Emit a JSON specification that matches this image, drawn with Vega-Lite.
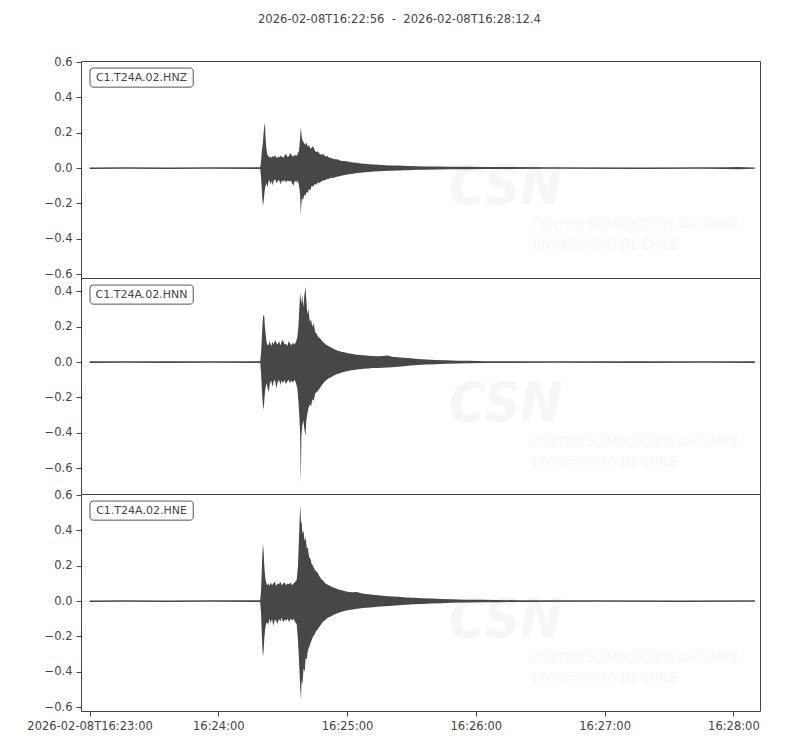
{
"$schema":"https://vega.github.io/schema/vega-lite/v6.json",
"background":"white",
"padding":{"left":26,"top":13,"right":10,"bottom":5},
"title":{"text":"2026-02-08T16:22:56\u00a0\u00a0-\u00a0\u00a02026-02-08T16:28:12.4","font":"DejaVu Sans","fontSize":11.6,"fontWeight":"normal","color":"#444444","anchor":"middle","offset":30,"dx":6},
"spacing":0,
"bounds":"flush",
"config":{"view":{"stroke":"#444444","strokeWidth":1},"axis":{"labelFont":"DejaVu Sans","labelFontSize":11.5,"labelColor":"#444444","tickColor":"#444444","tickWidth":1,"grid":false,"domain":false,"tickSize":5,"labelPadding":4,"title":null,"labelOverlap":false,"labelBound":false}},
"datasets":{
"hnz":[
{"t":4,"lo":-0.005,"hi":0.004},{"t":20,"lo":-0.004,"hi":0.005},{"t":40,"lo":-0.005,"hi":0.004},{"t":60,"lo":-0.004,"hi":0.005},{"t":83.5,"lo":-0.005,"hi":0.005},
{"t":83.9,"lo":-0.05,"hi":0.04},{"t":84.2,"lo":-0.11,"hi":0.09},{"t":84.5,"lo":-0.17,"hi":0.12},{"t":84.8,"lo":-0.215,"hi":0.15},{"t":85.1,"lo":-0.19,"hi":0.2},{"t":85.4,"lo":-0.15,"hi":0.235},{"t":85.7,"lo":-0.12,"hi":0.257},{"t":86.0,"lo":-0.1,"hi":0.17},{"t":86.4,"lo":-0.085,"hi":0.11},{"t":86.8,"lo":-0.11,"hi":0.075},{"t":87.3,"lo":-0.08,"hi":0.07},{"t":87.7,"lo":-0.065,"hi":0.06},{"t":88.2,"lo":-0.09,"hi":0.065},{"t":88.9,"lo":-0.075,"hi":0.058},{"t":89.4,"lo":-0.1,"hi":0.07},{"t":89.8,"lo":-0.07,"hi":0.062},{"t":90.5,"lo":-0.065,"hi":0.072},{"t":91.1,"lo":-0.085,"hi":0.055},{"t":91.8,"lo":-0.072,"hi":0.066},{"t":92.3,"lo":-0.068,"hi":0.06},{"t":93.0,"lo":-0.092,"hi":0.07},{"t":93.6,"lo":-0.07,"hi":0.064},{"t":94.4,"lo":-0.078,"hi":0.058},{"t":95.0,"lo":-0.066,"hi":0.074},{"t":95.5,"lo":-0.082,"hi":0.08},{"t":96.3,"lo":-0.07,"hi":0.062},{"t":97.0,"lo":-0.076,"hi":0.07},{"t":97.6,"lo":-0.07,"hi":0.085},{"t":98.3,"lo":-0.085,"hi":0.07},{"t":99.0,"lo":-0.1,"hi":0.066},{"t":99.6,"lo":-0.072,"hi":0.075},{"t":100.3,"lo":-0.08,"hi":0.068},{"t":101.0,"lo":-0.07,"hi":0.08},{"t":101.6,"lo":-0.1,"hi":0.1},{"t":102.1,"lo":-0.15,"hi":0.17},{"t":102.4,"lo":-0.268,"hi":0.228},{"t":102.7,"lo":-0.2,"hi":0.2},{"t":103.0,"lo":-0.17,"hi":0.16},{"t":103.5,"lo":-0.18,"hi":0.15},{"t":104.0,"lo":-0.15,"hi":0.14},{"t":104.5,"lo":-0.16,"hi":0.13},{"t":105.1,"lo":-0.135,"hi":0.145},{"t":105.7,"lo":-0.14,"hi":0.12},{"t":106.2,"lo":-0.12,"hi":0.13},{"t":106.9,"lo":-0.125,"hi":0.11},{"t":107.5,"lo":-0.1,"hi":0.115},{"t":108.2,"lo":-0.105,"hi":0.125},{"t":108.9,"lo":-0.09,"hi":0.1},{"t":109.6,"lo":-0.095,"hi":0.09},{"t":110.4,"lo":-0.08,"hi":0.095},{"t":111.2,"lo":-0.085,"hi":0.08},{"t":112.0,"lo":-0.075,"hi":0.075},{"t":112.9,"lo":-0.07,"hi":0.08},{"t":113.8,"lo":-0.068,"hi":0.065},{"t":114.7,"lo":-0.062,"hi":0.068},{"t":115.6,"lo":-0.06,"hi":0.06},{"t":116.6,"lo":-0.055,"hi":0.057},{"t":117.6,"lo":-0.056,"hi":0.052},{"t":118.7,"lo":-0.05,"hi":0.05},{"t":119.8,"lo":-0.047,"hi":0.048},{"t":121.0,"lo":-0.045,"hi":0.042},{"t":122.3,"lo":-0.04,"hi":0.04},{"t":123.7,"lo":-0.038,"hi":0.038},{"t":125.2,"lo":-0.034,"hi":0.035},{"t":126.8,"lo":-0.032,"hi":0.031},{"t":128.5,"lo":-0.028,"hi":0.03},{"t":130.3,"lo":-0.027,"hi":0.026},{"t":132.2,"lo":-0.024,"hi":0.025},{"t":134.2,"lo":-0.022,"hi":0.022},{"t":136.5,"lo":-0.02,"hi":0.021},{"t":139.0,"lo":-0.018,"hi":0.019},{"t":141.5,"lo":-0.017,"hi":0.016},{"t":144.5,"lo":-0.015,"hi":0.015},{"t":148.0,"lo":-0.013,"hi":0.014},{"t":152.0,"lo":-0.012,"hi":0.012},{"t":156.5,"lo":-0.01,"hi":0.011},{"t":161.0,"lo":-0.009,"hi":0.009},{"t":166.0,"lo":-0.008,"hi":0.009},{"t":172.0,"lo":-0.007,"hi":0.007},{"t":179.0,"lo":-0.006,"hi":0.007},{"t":187.0,"lo":-0.005,"hi":0.006},{"t":220.0,"lo":-0.004,"hi":0.005},{"t":260.0,"lo":-0.005,"hi":0.004},{"t":290.0,"lo":-0.004,"hi":0.005},{"t":300.0,"lo":-0.005,"hi":0.005},{"t":306.0,"lo":-0.006,"hi":0.006},{"t":310.0,"lo":-0.005,"hi":0.005},{"t":314.0,"lo":-0.004,"hi":0.004}
],
"hnn":[
{"t":4,"lo":-0.005,"hi":0.004},{"t":20,"lo":-0.004,"hi":0.005},{"t":40,"lo":-0.005,"hi":0.004},{"t":60,"lo":-0.004,"hi":0.005},{"t":83.5,"lo":-0.005,"hi":0.005},
{"t":83.9,"lo":-0.06,"hi":0.05},{"t":84.2,"lo":-0.14,"hi":0.12},{"t":84.5,"lo":-0.2,"hi":0.2},{"t":84.8,"lo":-0.25,"hi":0.25},{"t":85.1,"lo":-0.268,"hi":0.27},{"t":85.4,"lo":-0.22,"hi":0.26},{"t":85.7,"lo":-0.17,"hi":0.2},{"t":86.1,"lo":-0.14,"hi":0.15},{"t":86.5,"lo":-0.12,"hi":0.11},{"t":87.0,"lo":-0.15,"hi":0.095},{"t":87.5,"lo":-0.17,"hi":0.1},{"t":88.0,"lo":-0.12,"hi":0.12},{"t":88.6,"lo":-0.105,"hi":0.09},{"t":89.2,"lo":-0.14,"hi":0.115},{"t":89.8,"lo":-0.11,"hi":0.1},{"t":90.4,"lo":-0.1,"hi":0.125},{"t":91.0,"lo":-0.15,"hi":0.11},{"t":91.6,"lo":-0.115,"hi":0.1},{"t":92.3,"lo":-0.1,"hi":0.12},{"t":92.9,"lo":-0.13,"hi":0.095},{"t":93.5,"lo":-0.105,"hi":0.115},{"t":94.1,"lo":-0.12,"hi":0.125},{"t":94.8,"lo":-0.1,"hi":0.1},{"t":95.5,"lo":-0.125,"hi":0.105},{"t":96.1,"lo":-0.11,"hi":0.09},{"t":96.8,"lo":-0.1,"hi":0.12},{"t":97.4,"lo":-0.12,"hi":0.105},{"t":98.1,"lo":-0.105,"hi":0.095},{"t":98.8,"lo":-0.115,"hi":0.11},{"t":99.5,"lo":-0.1,"hi":0.1},{"t":100.2,"lo":-0.12,"hi":0.115},{"t":100.8,"lo":-0.15,"hi":0.14},{"t":101.3,"lo":-0.22,"hi":0.2},{"t":101.8,"lo":-0.32,"hi":0.32},{"t":102.1,"lo":-0.4,"hi":0.393},{"t":102.4,"lo":-0.693,"hi":0.36},{"t":102.7,"lo":-0.42,"hi":0.33},{"t":103.1,"lo":-0.36,"hi":0.38},{"t":103.6,"lo":-0.33,"hi":0.31},{"t":104.1,"lo":-0.38,"hi":0.38},{"t":104.6,"lo":-0.42,"hi":0.425},{"t":105.0,"lo":-0.33,"hi":0.35},{"t":105.5,"lo":-0.29,"hi":0.27},{"t":106.0,"lo":-0.26,"hi":0.3},{"t":106.6,"lo":-0.24,"hi":0.23},{"t":107.2,"lo":-0.25,"hi":0.24},{"t":107.8,"lo":-0.21,"hi":0.2},{"t":108.4,"lo":-0.22,"hi":0.22},{"t":109.1,"lo":-0.18,"hi":0.17},{"t":109.8,"lo":-0.17,"hi":0.16},{"t":110.6,"lo":-0.16,"hi":0.14},{"t":111.4,"lo":-0.145,"hi":0.135},{"t":112.3,"lo":-0.13,"hi":0.12},{"t":113.2,"lo":-0.115,"hi":0.11},{"t":114.1,"lo":-0.105,"hi":0.1},{"t":115.1,"lo":-0.095,"hi":0.092},{"t":116.2,"lo":-0.088,"hi":0.085},{"t":117.3,"lo":-0.08,"hi":0.078},{"t":118.5,"lo":-0.072,"hi":0.07},{"t":119.8,"lo":-0.066,"hi":0.064},{"t":121.2,"lo":-0.06,"hi":0.058},{"t":122.7,"lo":-0.055,"hi":0.056},{"t":124.3,"lo":-0.05,"hi":0.05},{"t":126.0,"lo":-0.046,"hi":0.047},{"t":127.8,"lo":-0.044,"hi":0.043},{"t":129.7,"lo":-0.041,"hi":0.04},{"t":131.7,"lo":-0.038,"hi":0.038},{"t":133.8,"lo":-0.036,"hi":0.036},{"t":136.0,"lo":-0.034,"hi":0.035},{"t":138.3,"lo":-0.033,"hi":0.033},{"t":140.6,"lo":-0.032,"hi":0.034},{"t":142.8,"lo":-0.031,"hi":0.037},{"t":145.0,"lo":-0.029,"hi":0.03},{"t":147.6,"lo":-0.026,"hi":0.027},{"t":150.5,"lo":-0.023,"hi":0.024},{"t":153.5,"lo":-0.02,"hi":0.021},{"t":157.0,"lo":-0.017,"hi":0.018},{"t":161.0,"lo":-0.014,"hi":0.015},{"t":165.0,"lo":-0.012,"hi":0.012},{"t":170.0,"lo":-0.01,"hi":0.01},{"t":175.5,"lo":-0.008,"hi":0.008},{"t":181.0,"lo":-0.006,"hi":0.007},{"t":188.0,"lo":-0.005,"hi":0.005},{"t":220.0,"lo":-0.004,"hi":0.005},{"t":260.0,"lo":-0.005,"hi":0.004},{"t":290.0,"lo":-0.004,"hi":0.005},{"t":314.0,"lo":-0.005,"hi":0.004}
],
"hne":[
{"t":4,"lo":-0.005,"hi":0.004},{"t":20,"lo":-0.004,"hi":0.005},{"t":40,"lo":-0.005,"hi":0.004},{"t":60,"lo":-0.004,"hi":0.005},{"t":83.5,"lo":-0.005,"hi":0.005},
{"t":83.9,"lo":-0.07,"hi":0.06},{"t":84.2,"lo":-0.17,"hi":0.16},{"t":84.5,"lo":-0.26,"hi":0.26},{"t":84.8,"lo":-0.317,"hi":0.325},{"t":85.1,"lo":-0.28,"hi":0.28},{"t":85.4,"lo":-0.21,"hi":0.2},{"t":85.8,"lo":-0.16,"hi":0.14},{"t":86.2,"lo":-0.13,"hi":0.11},{"t":86.7,"lo":-0.12,"hi":0.09},{"t":87.2,"lo":-0.135,"hi":0.1},{"t":87.8,"lo":-0.1,"hi":0.085},{"t":88.4,"lo":-0.125,"hi":0.105},{"t":89.0,"lo":-0.1,"hi":0.09},{"t":89.6,"lo":-0.14,"hi":0.1},{"t":90.3,"lo":-0.105,"hi":0.11},{"t":90.9,"lo":-0.11,"hi":0.085},{"t":91.6,"lo":-0.13,"hi":0.1},{"t":92.2,"lo":-0.1,"hi":0.095},{"t":92.9,"lo":-0.115,"hi":0.11},{"t":93.5,"lo":-0.095,"hi":0.09},{"t":94.2,"lo":-0.12,"hi":0.1},{"t":94.9,"lo":-0.105,"hi":0.105},{"t":95.6,"lo":-0.11,"hi":0.09},{"t":96.3,"lo":-0.1,"hi":0.1},{"t":97.0,"lo":-0.12,"hi":0.095},{"t":97.7,"lo":-0.1,"hi":0.105},{"t":98.4,"lo":-0.11,"hi":0.09},{"t":99.1,"lo":-0.1,"hi":0.1},{"t":99.8,"lo":-0.12,"hi":0.11},{"t":100.5,"lo":-0.13,"hi":0.12},{"t":101.1,"lo":-0.22,"hi":0.2},{"t":101.6,"lo":-0.34,"hi":0.36},{"t":101.9,"lo":-0.42,"hi":0.47},{"t":102.2,"lo":-0.5,"hi":0.544},{"t":102.5,"lo":-0.557,"hi":0.44},{"t":102.8,"lo":-0.45,"hi":0.45},{"t":103.2,"lo":-0.47,"hi":0.38},{"t":103.7,"lo":-0.38,"hi":0.4},{"t":104.2,"lo":-0.4,"hi":0.34},{"t":104.7,"lo":-0.32,"hi":0.36},{"t":105.2,"lo":-0.33,"hi":0.3},{"t":105.7,"lo":-0.28,"hi":0.3},{"t":106.3,"lo":-0.26,"hi":0.25},{"t":106.9,"lo":-0.24,"hi":0.24},{"t":107.5,"lo":-0.22,"hi":0.21},{"t":108.1,"lo":-0.2,"hi":0.2},{"t":108.8,"lo":-0.19,"hi":0.18},{"t":109.5,"lo":-0.17,"hi":0.17},{"t":110.3,"lo":-0.16,"hi":0.16},{"t":111.1,"lo":-0.145,"hi":0.14},{"t":112.0,"lo":-0.13,"hi":0.125},{"t":112.9,"lo":-0.115,"hi":0.115},{"t":113.9,"lo":-0.105,"hi":0.1},{"t":115.0,"lo":-0.095,"hi":0.092},{"t":116.1,"lo":-0.088,"hi":0.085},{"t":117.3,"lo":-0.08,"hi":0.078},{"t":118.6,"lo":-0.073,"hi":0.072},{"t":120.0,"lo":-0.066,"hi":0.066},{"t":121.5,"lo":-0.06,"hi":0.061},{"t":123.1,"lo":-0.055,"hi":0.056},{"t":124.8,"lo":-0.05,"hi":0.052},{"t":126.6,"lo":-0.047,"hi":0.05},{"t":128.5,"lo":-0.044,"hi":0.052},{"t":130.5,"lo":-0.041,"hi":0.044},{"t":132.6,"lo":-0.038,"hi":0.04},{"t":134.8,"lo":-0.036,"hi":0.037},{"t":137.1,"lo":-0.034,"hi":0.034},{"t":139.5,"lo":-0.031,"hi":0.032},{"t":142.0,"lo":-0.029,"hi":0.029},{"t":145.0,"lo":-0.026,"hi":0.026},{"t":148.0,"lo":-0.023,"hi":0.024},{"t":151.5,"lo":-0.021,"hi":0.021},{"t":155.0,"lo":-0.018,"hi":0.019},{"t":159.0,"lo":-0.016,"hi":0.016},{"t":163.5,"lo":-0.014,"hi":0.014},{"t":168.0,"lo":-0.012,"hi":0.012},{"t":173.0,"lo":-0.01,"hi":0.01},{"t":179.0,"lo":-0.008,"hi":0.008},{"t":186.0,"lo":-0.007,"hi":0.007},{"t":194.0,"lo":-0.006,"hi":0.006},{"t":204.0,"lo":-0.005,"hi":0.005},{"t":240.0,"lo":-0.004,"hi":0.005},{"t":280.0,"lo":-0.005,"hi":0.004},{"t":314.0,"lo":-0.004,"hi":0.005}
]
},
"vconcat":[
{"width":679,"height":217,
 "layer":[
  {"data":{"values":[{"w":"CSN"}]},"mark":{"type":"text","font":"DejaVu Sans Condensed, Liberation Sans, sans-serif","fontStyle":"italic","fontWeight":"bold","fontSize":56,"color":"#f6f6f6","align":"center","baseline":"middle"},"encoding":{"x":{"datum":197.9,"type":"quantitative"},"y":{"datum":-0.107,"type":"quantitative"},"text":{"field":"w"}}},
  {"data":{"values":[{"w":"x"}]},"mark":{"type":"text","font":"DejaVu Sans Condensed, Liberation Sans, sans-serif","fontStyle":"italic","fontSize":13.5,"color":"#f6f6f6","align":"left","baseline":"middle","lineHeight":20},"encoding":{"x":{"datum":210.5,"type":"quantitative"},"y":{"datum":-0.323,"type":"quantitative"},"text":{"value":["CENTRO SISMOLÓGICO NACIONAL","UNIVERSIDAD DE CHILE"]}}},
  {"data":{"name":"hnz"},"mark":{"type":"area","color":"#474747","clip":true,"interpolate":"linear"},
   "encoding":{"x":{"field":"t","type":"quantitative","scale":{"domain":[0,316.4],"nice":false,"zero":false},"axis":null},
    "y":{"field":"hi","type":"quantitative","scale":{"domain":[-0.622,0.606],"nice":false,"zero":false},"axis":{"values":[-0.6,-0.4,-0.2,0,0.2,0.4,0.6],"tickCount":12,"format":".1f","labelOverlap":false}},
    "y2":{"field":"lo"}}},
  {"data":{"values":[{"label":"C1.T24A.02.HNZ"}]},"mark":{"type":"rect","fill":"white","stroke":"#555555","strokeWidth":1,"cornerRadius":3},"encoding":{"x":{"datum":4.2,"type":"quantitative"},"x2":{"datum":52.3},"y":{"datum":0.566,"type":"quantitative"},"y2":{"datum":0.458}}},
  {"data":{"values":[{"label":"C1.T24A.02.HNZ"}]},"mark":{"type":"text","font":"DejaVu Sans","fontSize":11,"color":"#444444","align":"center","baseline":"middle"},"encoding":{"x":{"datum":28.2,"type":"quantitative"},"y":{"datum":0.512,"type":"quantitative"},"text":{"field":"label"}}}
 ]},
{"width":679,"height":216,
 "layer":[
  {"data":{"values":[{"w":"CSN"}]},"mark":{"type":"text","font":"DejaVu Sans Condensed, Liberation Sans, sans-serif","fontStyle":"italic","fontWeight":"bold","fontSize":56,"color":"#f6f6f6","align":"center","baseline":"middle"},"encoding":{"x":{"datum":197.9,"type":"quantitative"},"y":{"datum":-0.238,"type":"quantitative"},"text":{"field":"w"}}},
  {"data":{"values":[{"w":"x"}]},"mark":{"type":"text","font":"DejaVu Sans Condensed, Liberation Sans, sans-serif","fontStyle":"italic","fontSize":13.5,"color":"#f6f6f6","align":"left","baseline":"middle","lineHeight":20},"encoding":{"x":{"datum":210.5,"type":"quantitative"},"y":{"datum":-0.453,"type":"quantitative"},"text":{"value":["CENTRO SISMOLÓGICO NACIONAL","UNIVERSIDAD DE CHILE"]}}},
  {"data":{"name":"hnn"},"mark":{"type":"area","color":"#474747","clip":true,"interpolate":"linear"},
   "encoding":{"x":{"field":"t","type":"quantitative","scale":{"domain":[0,316.4],"nice":false,"zero":false},"axis":null},
    "y":{"field":"hi","type":"quantitative","scale":{"domain":[-0.747,0.476],"nice":false,"zero":false},"axis":{"values":[-0.6,-0.4,-0.2,0,0.2,0.4],"tickCount":12,"format":".1f","labelOverlap":false}},
    "y2":{"field":"lo"}}},
  {"data":{"values":[{"label":"C1.T24A.02.HNN"}]},"mark":{"type":"rect","fill":"white","stroke":"#555555","strokeWidth":1,"cornerRadius":3},"encoding":{"x":{"datum":4.2,"type":"quantitative"},"x2":{"datum":52.3},"y":{"datum":0.436,"type":"quantitative"},"y2":{"datum":0.328}}},
  {"data":{"values":[{"label":"C1.T24A.02.HNN"}]},"mark":{"type":"text","font":"DejaVu Sans","fontSize":11,"color":"#444444","align":"center","baseline":"middle"},"encoding":{"x":{"datum":28.2,"type":"quantitative"},"y":{"datum":0.382,"type":"quantitative"},"text":{"field":"label"}}}
 ]},
{"width":679,"height":217,
 "layer":[
  {"data":{"values":[{"w":"CSN"}]},"mark":{"type":"text","font":"DejaVu Sans Condensed, Liberation Sans, sans-serif","fontStyle":"italic","fontWeight":"bold","fontSize":56,"color":"#f6f6f6","align":"center","baseline":"middle"},"encoding":{"x":{"datum":197.9,"type":"quantitative"},"y":{"datum":-0.107,"type":"quantitative"},"text":{"field":"w"}}},
  {"data":{"values":[{"w":"x"}]},"mark":{"type":"text","font":"DejaVu Sans Condensed, Liberation Sans, sans-serif","fontStyle":"italic","fontSize":13.5,"color":"#f6f6f6","align":"left","baseline":"middle","lineHeight":20},"encoding":{"x":{"datum":210.5,"type":"quantitative"},"y":{"datum":-0.323,"type":"quantitative"},"text":{"value":["CENTRO SISMOLÓGICO NACIONAL","UNIVERSIDAD DE CHILE"]}}},
  {"data":{"name":"hne"},"mark":{"type":"area","color":"#474747","clip":true,"interpolate":"linear"},
   "encoding":{"x":{"field":"t","type":"quantitative","scale":{"domain":[0,316.4],"nice":false,"zero":false},"axis":{"values":[4,64,124,184,244,304],"tickCount":20,"labelFlush":false,"labelExpr":"datum.value < 10 ? '2026-02-08T16:23:00' : datum.value < 70 ? '16:24:00' : datum.value < 130 ? '16:25:00' : datum.value < 190 ? '16:26:00' : datum.value < 250 ? '16:27:00' : '16:28:00'"}},
    "y":{"field":"hi","type":"quantitative","scale":{"domain":[-0.622,0.606],"nice":false,"zero":false},"axis":{"values":[-0.6,-0.4,-0.2,0,0.2,0.4,0.6],"tickCount":12,"format":".1f","labelOverlap":false}},
    "y2":{"field":"lo"}}},
  {"data":{"values":[{"label":"C1.T24A.02.HNE"}]},"mark":{"type":"rect","fill":"white","stroke":"#555555","strokeWidth":1,"cornerRadius":3},"encoding":{"x":{"datum":4.2,"type":"quantitative"},"x2":{"datum":52.3},"y":{"datum":0.566,"type":"quantitative"},"y2":{"datum":0.458}}},
  {"data":{"values":[{"label":"C1.T24A.02.HNE"}]},"mark":{"type":"text","font":"DejaVu Sans","fontSize":11,"color":"#444444","align":"center","baseline":"middle"},"encoding":{"x":{"datum":28.2,"type":"quantitative"},"y":{"datum":0.512,"type":"quantitative"},"text":{"field":"label"}}}
 ]}
]
}
